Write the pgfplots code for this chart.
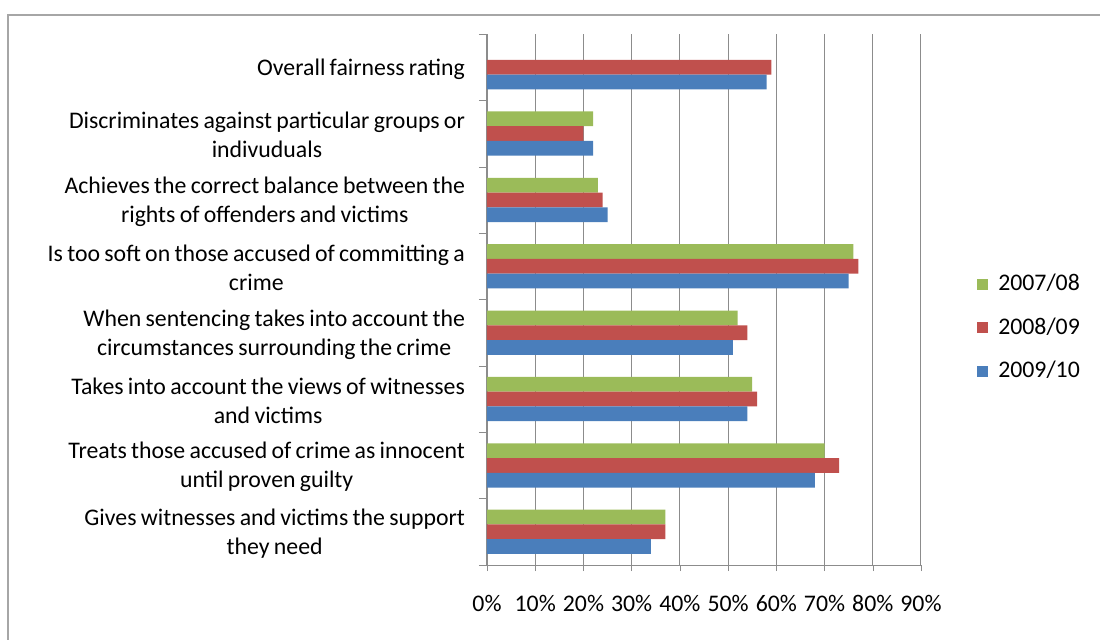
\documentclass[border=0pt]{standalone}
\usepackage{pgfplots}
\pgfplotsset{compat=1.18}
\usepackage{fontspec}
\setmainfont{Carlito}
\newfontfamily\lblfont[WordSpace=0.8]{Carlito}
\definecolor{cgreen}{HTML}{9BBB59}
\definecolor{cred}{HTML}{C0504D}
\definecolor{cblue}{HTML}{4A7EBB}
\definecolor{gridc}{HTML}{8C8C8C}
\begin{document}
\begin{tikzpicture}[font=\fontsize{11.9pt}{14.5pt}\selectfont]
\useasboundingbox (0,0) rectangle (550pt,319.5pt);
\draw[gray!70, line width=0.8pt] (4pt,-2pt) rectangle (552pt,312pt);
\begin{axis}[
  at={(243.5pt,37pt)}, anchor=south west,
  scale only axis, width=217pt, height=265.5pt,
  xbar, bar width=0.222,
  xmin=0, xmax=90, ymin=-0.5, ymax=7.5,
  axis lines*=left,
  axis line style={gridc},
  xtick={0,10,...,90},
  xticklabels={0\%,10\%,20\%,30\%,40\%,50\%,60\%,70\%,80\%,90\%},
  xmajorgrids, major grid style={gridc, line width=0.5pt},
  x tick style={gridc}, tick align=outside,
  major tick length=3pt,
  xticklabel style={yshift=-8.5pt},
  ytick={0,...,7},
  yticklabels={{Gives witnesses and victims the support\\they need},
    {Treats those accused of crime as innocent\\until proven guilty},
    {Takes into account the views of witnesses\\and victims},
    {When sentencing takes into account the\\circumstances surrounding the crime},
    {Is too soft on those accused of committing a\\crime},
    {Achieves the correct balance between the\\rights of offenders and victims},
    {Discriminates against particular groups or\\indivuduals},
    {Overall fairness rating}},
  yticklabel style={align=center, xshift=-4.5pt, yshift=-0.8pt,
    font=\lblfont\fontsize{11.9pt}{14.5pt}\selectfont},
  y tick style={draw=none},
  minor ytick={-0.5,0.5,...,7.5},
  minor y tick style={draw=gridc},
  minor tick length=4pt,
  legend style={at={(1.115,0.447)}, anchor=west, draw=none, fill=none,
    row sep=8pt, font=\fontsize{11.9pt}{14.5pt}\selectfont},
  legend cell align=left,
  clip=false,
]
\addplot[fill=cgreen, draw=none, bar shift=0.222,
  legend image code/.code={\fill[cgreen] (0pt,-2.7pt) rectangle (5.2pt,2.7pt); \path (8.5pt,0pt);}]
  coordinates {(37,0) (70,1) (55,2) (52,3) (76,4) (23,5) (22,6)};
\addplot[fill=cred, draw=none, bar shift=0,
  legend image code/.code={\fill[cred] (0pt,-2.7pt) rectangle (5.2pt,2.7pt); \path (8.5pt,0pt);}]
  coordinates {(37,0) (73,1) (56,2) (54,3) (77,4) (24,5) (20,6) (59,7)};
\addplot[fill=cblue, draw=none, bar shift=-0.222,
  legend image code/.code={\fill[cblue] (0pt,-2.7pt) rectangle (5.2pt,2.7pt); \path (8.5pt,0pt);}]
  coordinates {(34,0) (68,1) (54,2) (51,3) (75,4) (25,5) (22,6) (58,7)};
\legend{2007/08,2008/09,2009/10}
\end{axis}
\end{tikzpicture}
\end{document}
